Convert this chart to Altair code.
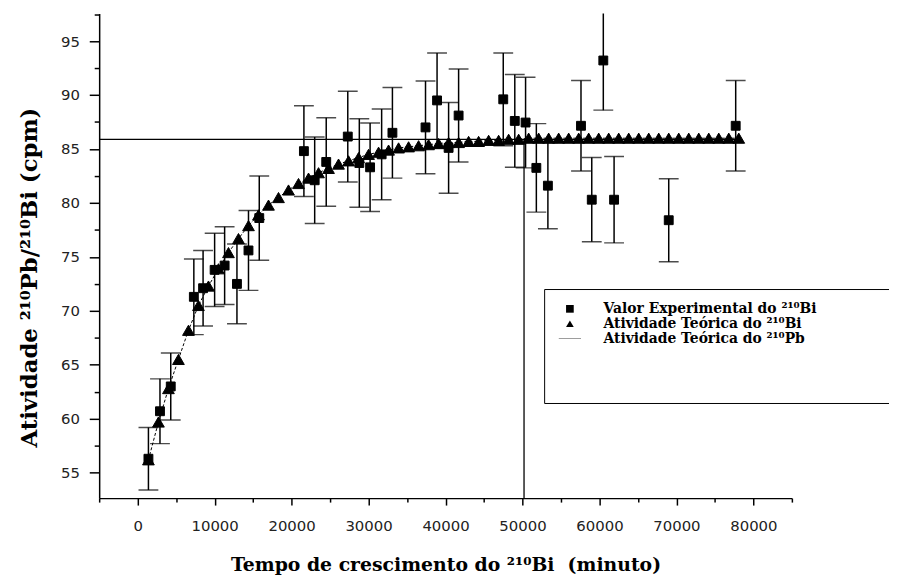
import altair as alt
import pandas as pd

# ---------------- data ----------------
labels = ["Valor Experimental do ²¹⁰Bi",
          "Atividade Teórica do ²¹⁰Bi",
          "Atividade Teórica do ²¹⁰Pb"]

# experimental 210Bi values with error bars
exp_x = [1400, 2900, 4300, 7300, 8500, 10000, 11300, 12900, 14400, 15800,
         21600, 23000, 24500, 27300, 28800, 30200, 31700, 33100, 37400, 38900,
         40400, 41700, 47500, 49000, 50400, 51800, 53300, 57600, 59000, 60500,
         61900, 69000, 77700]
exp_y = [56.3, 60.7, 63.0, 71.3, 72.1, 73.8, 74.2, 72.5, 75.6, 78.6,
         84.8, 82.1, 83.8, 86.15, 83.7, 83.3, 84.5, 86.5, 87.0, 89.5,
         85.1, 88.1, 89.6, 87.6, 87.45, 83.25, 81.6, 87.15, 80.3, 93.2,
         80.3, 78.4, 87.15]
exp_err = [2.9, 3.0, 3.1, 3.5, 3.5, 3.4, 3.6, 3.7, 3.7, 3.9,
           4.2, 4.0, 4.1, 4.2, 4.1, 4.1, 4.2, 4.2, 4.3, 4.4,
           4.2, 4.3, 4.3, 4.3, 4.2, 4.1, 4.0, 4.2, 3.9, 4.6,
           4.0, 3.85, 4.2]

# theoretical 210Bi activity
teo_x = [1400, 2700, 4000, 5300, 6600, 7900, 9200, 10500, 11800, 13100,
         14400, 15700, 17000, 18300, 19600, 20900, 22200, 23500, 24800, 26100,
         27400, 28700, 30000, 31300, 32600, 33900, 35200, 36500, 37800, 39100,
         40400, 41700, 43000, 44300, 45600, 46900, 48200, 49500, 50800, 52100,
         53400, 54700, 56000, 57300, 58600, 59900, 61200, 62500, 63800, 65100,
         66400, 67700, 69000, 70300, 71600, 72900, 74200, 75500, 76800, 78100]
teo_y = [56.2, 59.7, 62.8, 65.5, 68.2, 70.5, 72.3, 73.9, 75.4, 76.7,
         77.9, 78.9, 79.8, 80.5, 81.2, 81.8, 82.3, 82.8, 83.2, 83.6,
         83.9, 84.2, 84.5, 84.7, 84.9, 85.1, 85.2, 85.3, 85.4, 85.5,
         85.6, 85.6, 85.7, 85.7, 85.8, 85.8, 85.9, 85.9, 86.0, 86.0,
         86.0, 86.0, 86.0, 86.0, 86.0, 86.0, 86.0, 86.0, 86.0, 86.0,
         86.0, 86.0, 86.0, 86.0, 86.0, 86.0, 86.0, 86.0, 86.0, 86.0]

# theoretical 210Pb activity
pb_level = 85.9
pb_x = [-5000, 78300]
pb_drop_x = 50200

# axes
x_domain = [-5000, 85000]
y_domain = [52.65, 97.55]
x_ticks = [-5000, 0, 5000, 10000, 15000, 20000, 25000, 30000, 35000, 40000,
           45000, 50000, 55000, 60000, 65000, 70000, 75000, 80000, 85000]
y_ticks = [52.5, 55, 57.5, 60, 62.5, 65, 67.5, 70, 72.5, 75, 77.5, 80,
           82.5, 85, 87.5, 90, 92.5, 95, 97.5]

x_title = "Tempo de crescimento do ²¹⁰Bi\u00a0 (minuto)"
y_title = "Atividade ²¹⁰Pb/²¹⁰Bi (cpm)"

# ---------------- frames ----------------
exp_df = pd.DataFrame({"x": exp_x, "y": exp_y, "err": exp_err})
exp_df["lo"] = exp_df["y"] - exp_df["err"]
exp_df["hi"] = exp_df["y"] + exp_df["err"]
exp_df["serie"] = labels[0]

cap_df = pd.concat([
    pd.DataFrame({"x": exp_x, "y": exp_df["lo"]}),
    pd.DataFrame({"x": exp_x, "y": exp_df["hi"]}),
])

teo_df = pd.DataFrame({"x": teo_x, "y": teo_y, "serie": labels[1]})
pb_df = pd.DataFrame({"x": pb_x, "y": [pb_level] * len(pb_x), "serie": labels[2]})
drop_df = pd.DataFrame({"x": [pb_drop_x], "y": [y_domain[0]], "y2": [pb_level]})

# ---------------- encodings ----------------
xs = alt.Scale(domain=x_domain, nice=False, zero=False)
ys = alt.Scale(domain=y_domain, nice=False, zero=False)

x_axis = alt.Axis(
    title=x_title, values=x_ticks, format="d",
    labelExpr="datum.value % 10000 === 0 ? datum.label : ''",
    tickSize={"condition": {"test": "datum.value % 10000 === 0", "value": 7}, "value": 4},
    labelPadding=14, titlePadding=22,
    titleFont="DejaVu Serif", titleFontSize=19, titleFontWeight="bold",
)
y_axis = alt.Axis(
    title=y_title, values=y_ticks,
    labelExpr="datum.value % 5 === 0 ? format(datum.value, 'd') : ''",
    tickSize={"condition": {"test": "datum.value % 5 === 0", "value": 10}, "value": 5},
    labelPadding=10, titlePadding=19, titleY=266,
    titleFont="DejaVu Serif", titleFontSize=23, titleFontWeight="bold",
)

X = alt.X("x:Q", scale=xs, axis=x_axis)
Y = alt.Y("y:Q", scale=ys, axis=y_axis)

# the legend frame runs to the right edge of the picture, as in the original;
# a white (invisible) spacer title sets its width and the empty space below the rows
legend = alt.Legend(
    orient="none", legendX=449, legendY=278,
    title="." * 73, titleOrient="bottom", titlePadding=34, titleColor="white",
    titleLimit=4000, titleFontSize=12, titleFont="DejaVu Sans",
    padding=13, symbolOffset=6, labelOffset=27, rowPadding=1,
    symbolSize=60, symbolFillColor="black", symbolStrokeColor="black",
    symbolStrokeWidth=1, symbolOpacity=1,
    labelFont="DejaVu Serif", labelFontWeight="bold", labelFontSize=14,
    labelColor="black", labelLimit=1000,
    strokeColor="black", fillColor="white",
)
SHAPE = alt.Shape("serie:N",
                  scale=alt.Scale(domain=labels,
                                  range=["square", "triangle-up",
                                         "M-2.9,-0.05H2.9V0.05H-2.9Z"]),
                  legend=legend)

pb_line = alt.Chart(pb_df).mark_line(color="black", strokeWidth=1.3, clip=True).encode(x=X, y=Y)
pb_drop = alt.Chart(drop_df).mark_rule(color="black", strokeWidth=1.3, clip=True).encode(
    x=X, y=Y, y2="y2:Q")
teo_line = alt.Chart(teo_df).mark_line(color="black", strokeWidth=1, strokeDash=[3, 2]).encode(x=X, y=Y)
err_rules = alt.Chart(exp_df).mark_rule(color="black", strokeWidth=1.5, clip=True).encode(
    x=X, y=alt.Y("lo:Q", scale=ys, axis=y_axis), y2="hi:Q")
err_caps = alt.Chart(cap_df).mark_tick(color="black", orient="horizontal", size=20,
                                        thickness=1.5, clip=True).encode(x=X, y=Y)

tri_pts = alt.Chart(teo_df).mark_point(filled=True, color="black", stroke="black",
                                       strokeWidth=1, opacity=1, size=140).encode(
    x=X, y=Y, shape=SHAPE)
sq_pts = alt.Chart(exp_df).mark_point(filled=True, color="black", stroke="black",
                                      strokeWidth=1, opacity=1, size=80).encode(
    x=X, y=Y, shape=SHAPE)
# legend carrier for the 210Pb line (drawn with zero size)
pb_pts = alt.Chart(pb_df).mark_point(filled=True, color="black", stroke="black",
                                     strokeWidth=1, opacity=1, size=0).encode(
    x=X, y=Y, shape=SHAPE)

chart = alt.layer(pb_line, pb_drop, teo_line, err_rules, err_caps,
                  tri_pts, sq_pts, pb_pts).properties(
    width=699, height=489,
    autosize=alt.AutoSizeParams(type="none"),
    padding={"left": 92, "top": 3, "right": 98, "bottom": 77},
    background="white",
).configure_axis(
    grid=False, domainColor="black", domainWidth=1.5, tickColor="black", tickWidth=1.5,
    labelFont="DejaVu Sans", labelFontSize=15, labelColor="#222",
    titleColor="black",
).configure_view(stroke=None)

chart.save("out.html", embed_options={"renderer": "svg", "actions": False})
